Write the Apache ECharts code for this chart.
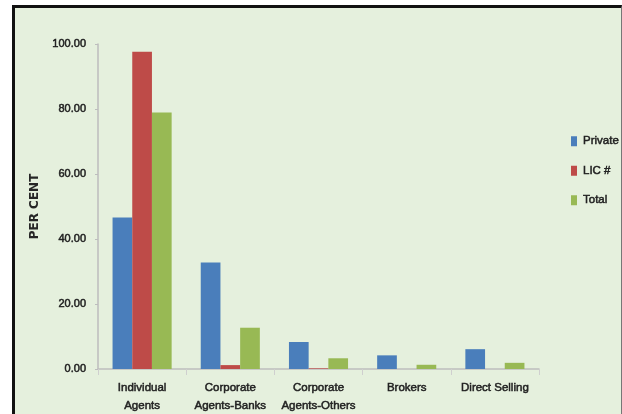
<!DOCTYPE html>
<html>
<head>
<meta charset="utf-8">
<script src="https://cdn.jsdelivr.net/npm/echarts@6/dist/echarts.min.js"></script>
<style>
  html, body { margin: 0; padding: 0; background: #ffffff; }
  .frame {
    position: absolute;
    left: 12px;
    top: 5px;
    width: 606px;
    height: 409px;
    border-left: 3px solid #111;
    border-top: 3px solid #111;
    border-right: 1px solid #777;
    background: #e5f0dd;
  }
  #chart { width: 606px; height: 406px; }
</style>
</head>
<body>
<div class="frame"><div id="chart"></div></div>
<script>
// channel categories
const categories = ['Individual\nAgents', 'Corporate\nAgents-Banks', 'Corporate\nAgents-Others', 'Brokers', 'Direct Selling']
// per cent share per channel
const privateShare = [46.6, 32.8, 8.3, 4.2, 6.1]
const licShare = [97.6, 1.2, 0.2, 0, 0]
const totalShare = [78.9, 12.7, 3.3, 1.3, 1.9]

const labelFont = "'Liberation Sans', Arial, sans-serif"
// slightly heavier text, the original labels look semi-bold
const heavy = { textBorderColor: '#222', textBorderWidth: 0.5 }

const chart = echarts.init(document.getElementById('chart'))

const option = {
  backgroundColor: 'transparent',
  animation: false,
  legend: {
    orient: 'vertical',
    left: 551,
    top: 122,
    itemWidth: 6,
    itemHeight: 10,
    itemGap: 17,
    icon: 'rect',
    textStyle: {
      fontFamily: labelFont,
      fontSize: 11.5,
      color: '#222',
      padding: [0, 0, 0, 1],
      ...heavy
    },
    data: ['Private', 'LIC #', 'Total']
  },
  grid: {
    left: 83,
    right: 82,
    top: 36,
    bottom: 45,
    containLabel: false,
    outerBoundsMode: 'none'
  },
  xAxis: {
    type: 'category',
    data: categories,
    axisLine: { lineStyle: { color: '#bdbdbd', width: 1.5 } },
    axisTick: { show: true, alignWithLabel: false, length: 6, lineStyle: { color: '#cfcfcf' } },
    axisLabel: {
      interval: 0,
      margin: 10,
      fontFamily: labelFont,
      fontSize: 11.5,
      lineHeight: 18,
      color: '#222',
      ...heavy
    }
  },
  yAxis: {
    type: 'value',
    min: 0,
    max: 100,
    interval: 20,
    name: 'PER CENT',
    nameLocation: 'middle',
    nameRotate: 90,
    nameGap: 55,
    nameTextStyle: {
      fontFamily: "'DejaVu Sans', sans-serif",
      fontSize: 12,
      fontWeight: 'bold',
      color: '#262626'
    },
    axisLine: { show: true, lineStyle: { color: '#bdbdbd', width: 1.5 } },
    axisTick: { show: true, length: 3, lineStyle: { color: '#bdbdbd' } },
    splitLine: { show: false },
    axisLabel: {
      margin: 12,
      fontFamily: labelFont,
      fontSize: 11,
      color: '#222',
      formatter: (v) => v.toFixed(2),
      ...heavy
    }
  },
  series: [
    {
      name: 'Private',
      type: 'bar',
      data: privateShare,
      barGap: '0%',
      barCategoryGap: '33%',
      itemStyle: { color: '#4a7ebb' }
    },
    {
      name: 'LIC #',
      type: 'bar',
      data: licShare,
      itemStyle: { color: '#be4b48' }
    },
    {
      name: 'Total',
      type: 'bar',
      data: totalShare,
      itemStyle: { color: '#98b954' }
    }
  ]
}

chart.setOption(option)
</script>
</body>
</html>
